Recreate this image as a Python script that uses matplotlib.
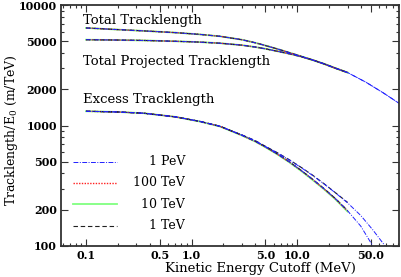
import matplotlib
matplotlib.use("Agg")
import matplotlib.pyplot as plt
from matplotlib.ticker import FixedLocator, NullFormatter, FixedFormatter

plt.rcParams['font.family'] = ['DejaVu Serif']
plt.rcParams['mathtext.fontset'] = 'dejavuserif'

# ---- data ----
x_std = [0.1, 0.2, 0.35, 0.7, 1.2, 1.85, 3.0, 4.0, 5.0, 6.5, 8.5, 11.0, 14.0, 18.0, 23.0, 30.0]
x_ext_total = x_std + [45.0, 65.0, 93.0]
x_ext_lo = x_std + [40.0, 52.0]
x_ext_hi = x_std + [40.0, 52.0, 68.0]

total_std = [6450, 6250, 6100, 5900, 5700, 5500, 5150, 4860, 4610, 4315, 4015, 3740, 3500, 3245, 2990, 2750]
total_pev = total_std + [2280, 1870, 1520]
proj_std = [5150, 5120, 5080, 5000, 4920, 4820, 4640, 4480, 4330, 4130, 3930, 3720, 3490, 3245, 2990, 2750]
proj_pev = proj_std + [2280, 1870, 1520]

excess_1tev = [1313, 1295, 1265, 1180, 1080, 985, 830, 740, 665, 580, 497, 422, 358, 299, 248, 197]
excess_10tev = [1313, 1295, 1265, 1180, 1078, 982, 826, 736, 660, 575, 492, 417, 353, 295, 244, 193]
excess_100tev = [1313, 1295, 1265, 1180, 1080, 984, 828, 738, 663, 578, 495, 420, 356, 297, 246, 195]
excess_pev = [1313, 1295, 1265, 1180, 1080, 984, 829, 739, 664, 579, 496, 421, 357, 298, 247, 196, 146, 100]

excess_hi_1tev = [1313, 1295, 1265, 1180, 1082, 988, 835, 750, 672, 594, 517, 447, 387, 328, 277, 230]
excess_hi_pev = [1313, 1295, 1265, 1180, 1082, 988, 834, 748, 670, 592, 515, 445, 385, 327, 276, 228, 179, 136, 100]

legend_labels = ['1 PeV', '100 TeV', '10 TeV', '1 TeV']
colors = {'1 PeV': '#2020ff', '100 TeV': '#ff2020', '10 TeV': '#80ff80', '1 TeV': '#202020'}
styles = {'1 PeV': (0, (5, 1.5, 1, 1.5)), '100 TeV': (0, (1, 1)), '10 TeV': '-', '1 TeV': (0, (4, 2.5))}
widths = {'1 PeV': 0.7, '100 TeV': 1.0, '10 TeV': 1.3, '1 TeV': 0.8}

fig = plt.figure(figsize=(4.02, 2.77), dpi=100)
ax = fig.add_axes([61/402, 1-246/277, 338/402, 241/277])

def draw(x, y, e):
    ax.plot(x, y, color=colors[e], ls=styles[e], lw=widths[e])

# 10 TeV
draw(x_std, total_std, '10 TeV'); draw(x_std, proj_std, '10 TeV'); draw(x_std, excess_10tev, '10 TeV')
# 100 TeV
draw(x_std, total_std, '100 TeV'); draw(x_std, proj_std, '100 TeV'); draw(x_std, excess_100tev, '100 TeV')
# 1 TeV
draw(x_std, total_std, '1 TeV'); draw(x_std, proj_std, '1 TeV'); draw(x_std, excess_1tev, '1 TeV')
draw(x_std, excess_hi_1tev, '1 TeV')
# 1 PeV
draw(x_ext_total, total_pev, '1 PeV'); draw(x_ext_total, proj_pev, '1 PeV')
draw(x_ext_lo, excess_pev, '1 PeV'); draw(x_ext_hi, excess_hi_pev, '1 PeV')

ax.set_xscale('log'); ax.set_yscale('log')
ax.set_xlim(0.058, 92)
ax.set_ylim(100, 10000)

xmaj = [0.1, 0.5, 1.0, 5.0, 10.0, 50.0]
xlab = ['0.1', '0.5', '1.0', '5.0', '10.0', '50.0']
xmin = [0.06, 0.07, 0.08, 0.09, 0.2, 0.3, 0.4, 0.6, 0.7, 0.8, 0.9, 2, 3, 4, 6, 7, 8, 9, 20, 30, 40, 60, 70, 80, 90]
ymaj = [100, 200, 500, 1000, 2000, 5000, 10000]
ylab = ['100', '200', '500', '1000', '2000', '5000', '10000']
ymin = [300, 400, 600, 700, 800, 900, 3000, 4000, 6000, 7000, 8000, 9000]

ax.xaxis.set_major_locator(FixedLocator(xmaj))
ax.xaxis.set_major_formatter(FixedFormatter(xlab))
ax.xaxis.set_minor_locator(FixedLocator(xmin))
ax.xaxis.set_minor_formatter(NullFormatter())
ax.yaxis.set_major_locator(FixedLocator(ymaj))
ax.yaxis.set_major_formatter(FixedFormatter(ylab))
ax.yaxis.set_minor_locator(FixedLocator(ymin))
ax.yaxis.set_minor_formatter(NullFormatter())

ax.tick_params(which='both', direction='in', top=True, right=True, width=0.8, color='#333333')
ax.tick_params(which='major', length=5, labelsize=8, pad=3)
ax.tick_params(which='minor', length=2.5)
for lab in ax.get_xticklabels() + ax.get_yticklabels():
    lab.set_fontweight('bold')
for s in ax.spines.values():
    s.set_linewidth(1.3)
    s.set_color('#333333')

ax.set_xlabel('Kinetic Energy Cutoff (MeV)', fontsize=9.5, labelpad=0)
ax.xaxis.set_label_coords(0.59, -0.065)
ax.set_ylabel('Tracklength/E$_\\mathrm{0}$ (m/TeV)', fontsize=9)
ax.yaxis.set_label_coords(-0.12, 0.48)

ax.text(0.065, 0.921, 'Total Tracklength', transform=ax.transAxes, fontsize=9.5, va='baseline')
ax.text(0.065, 0.751, 'Total Projected Tracklength', transform=ax.transAxes, fontsize=9.5, va='baseline')
ax.text(0.065, 0.593, 'Excess Tracklength', transform=ax.transAxes, fontsize=9.5, va='baseline')

ly = [0.350, 0.263, 0.174, 0.083]
for e, yy in zip(legend_labels, ly):
    ax.plot([0.0355, 0.166], [yy, yy], transform=ax.transAxes, color=colors[e], ls=styles[e], lw=widths[e])
    ax.text(0.367, yy, e, transform=ax.transAxes, fontsize=9, ha='right', va='center')

fig.savefig('out.png', dpi=100)
